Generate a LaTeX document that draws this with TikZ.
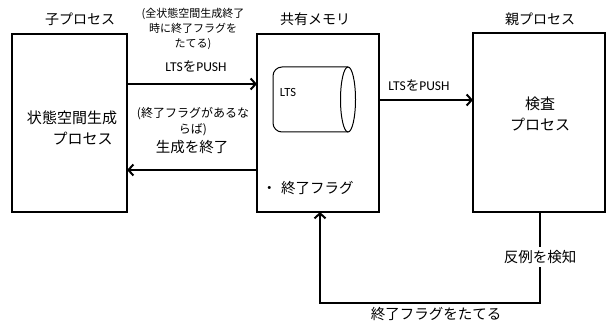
\documentclass[tikz,border=0pt]{standalone}
\usepackage{fontspec}
\setmainfont{Noto Sans CJK JP}
\newfontfamily\lat{Carlito}
\usetikzlibrary{arrows.meta}
\begin{document}
\begin{tikzpicture}[x=1pt,y=-1pt,
  box/.style={draw,line width=2pt},
  conn/.style={line width=2pt,-{Straight Barb[length=5pt,width=11pt,line width=2pt]}},
  plain/.style={line width=2pt},
  ttl/.style={font=\fontsize{14}{16}\selectfont,inner sep=0pt},
  inner/.style={font=\fontsize{15}{21}\selectfont,inner sep=0pt,align=center},
  lbl/.style={font=\fontsize{14.5}{16}\selectfont,inner sep=0pt},
  small/.style={font=\fontsize{11}{15}\selectfont,inner sep=0pt,align=center},
  push/.style={font=\fontsize{13.5}{15}\selectfont,inner sep=0pt},
]
\useasboundingbox (0,0) rectangle (607,323);
% boxes
\draw[box] (12,34) rectangle (127,212);
\draw[box] (257,34) rectangle (379,212);
\draw[box] (473,33) rectangle (605,212);
\coordinate (Lt) at (127,84);
\coordinate (Mt) at (257,84);
\coordinate (Mr) at (379,100);
\coordinate (Rl) at (473,100);
\coordinate (Ml) at (257,170);
\coordinate (Lr) at (127,170);
\coordinate (Rb) at (540,212);
\coordinate (Mb) at (320,212);
% titles
\node[ttl] (t1) at (80,19) {子プロセス};
\node[ttl] (t2) at (315,19) {共有メモリ};
\node[ttl] (t3) at (540,19) {親プロセス};
% inner texts
\node[inner] (gen) at (72,128) {状態空間生成\\\hspace*{1.4em}プロセス};
\node[inner] (chk) at (540,114) {検査\\プロセス};
% cylinder
\draw[line width=1pt,rounded corners=9pt] (348,67) -- (273,67) -- (273,132) -- (348,132);
\draw[line width=1pt] (348,99.5) ellipse (7.5 and 32.5);
\node[font=\lat\fontsize{12.5}{14}\selectfont,inner sep=0pt] (lts) at (288,92) {LTS};
% flag
\node[lbl,anchor=west] (flag) at (262,188) {・\hspace{0.3em}終了フラグ};
% arrows
\draw[conn] (Lt) -- (Mt);
\draw[conn] (Mr) -- (Rl);
\draw[conn] (Ml) -- (Lr);
% labels
\node[small] (note1) at (193,29) {(全状態空間生成終了\\時に終了フラグを\\たてる)};
\node[push] (push1) at (196,66) {{\lat LTS}を{\lat PUSH}};
\node[push] (push2) at (419,85) {{\lat LTS}を{\lat PUSH}};
\node[font=\fontsize{12}{16}\selectfont,inner sep=0pt,align=center] (note2) at (193,122) {(終了フラグがあるな\\らば)};
\node[lbl] (stop) at (192,147) {生成を終了};
\node[lbl,fill=white,inner sep=3pt] (det) at (540,257) {反例を検知};
\node[lbl] (raise) at (436,314) {終了フラグをたてる};
% bottom connector
\draw[plain] (Rb) -- (det.north);
\draw[conn] (det.south) -- (540,303) -- (320,303) -- (Mb);
\end{tikzpicture}
\end{document}
